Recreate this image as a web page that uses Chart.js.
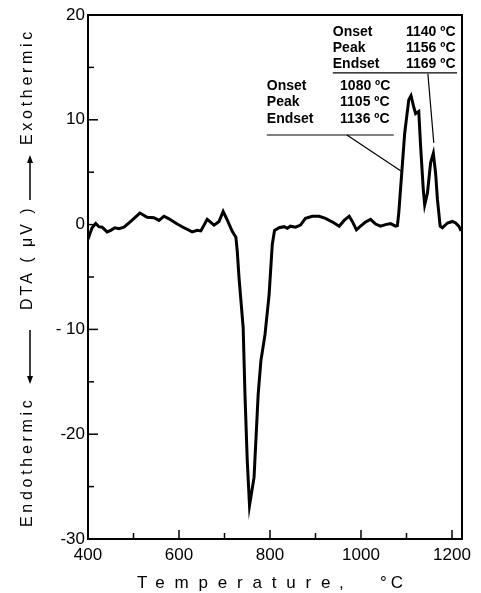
<!DOCTYPE html>
<html>
<head>
<meta charset="utf-8">
<script src="https://cdn.jsdelivr.net/npm/chart.js@4/dist/chart.umd.min.js"></script>
<style>
  body { margin: 0; background: #fff; }
  #wrap { width: 481px; height: 593px; position: relative; }
</style>
</head>
<body>
<div id="wrap"><canvas id="graph"></canvas></div>
<script>
// DTA trace
const temperature = [400, 404, 409, 417, 424, 431, 442, 450, 459, 468, 479, 494, 514, 530, 545, 556, 567, 578, 596, 611,
  629, 640, 648, 662, 677, 688, 697, 706, 717, 725, 728, 732, 741, 745, 750, 755, 765, 774, 780, 789,
  798, 805, 810, 820, 831, 838, 845, 856, 867, 878, 893, 908, 922, 941, 952, 963, 974, 981, 990, 999,
  1010, 1021, 1032, 1043, 1054, 1065, 1076, 1080, 1083, 1089, 1096, 1105, 1110, 1116, 1120, 1127, 1131, 1137, 1140, 1146,
  1153, 1159, 1164, 1168, 1174, 1179, 1190, 1201, 1208, 1215, 1220];
const dta = [-1.4, -0.9, -0.3, 0.1, -0.2, -0.25, -0.7, -0.55, -0.3, -0.4, -0.25, 0.3, 1.1, 0.7, 0.65, 0.4, 0.8, 0.55, 0.05, -0.3,
  -0.7, -0.55, -0.6, 0.5, -0.05, 0.3, 1.25, 0.45, -0.65, -1.2, -2.5, -5.1, -9.8, -16.2, -22.5, -26.8, -24.1, -16.2, -13.0, -10.5,
  -6.7, -1.9, -0.55, -0.3, -0.2, -0.35, -0.15, -0.25, -0.05, 0.6, 0.8, 0.8, 0.6, 0.15, -0.15, 0.4, 0.8, 0.3, -0.5, -0.15,
  0.25, 0.5, 0.05, -0.15, 0, 0.1, -0.15, -0.1, 1.1, 4.6, 8.7, 11.9, 12.3, 11.2, 10.6, 10.8, 7.5, 3.3, 1.9, 3.0,
  5.9, 6.8, 4.9, 2.4, -0.15, -0.3, 0.15, 0.3, 0.15, -0.15, -0.6];

const xTicks = [400, 500, 600, 700, 800, 900, 1000, 1100, 1200];
const yTicks = [-30, -25, -20, -15, -10, -5, 0, 5, 10, 15, 20];

const eventNames = ['Onset', 'Peak', 'Endset'];
const firstPeak = ['1080 ºC', '1105 ºC', '1136 ºC'];
const secondPeak = ['1140 ºC', '1156 ºC', '1169 ºC'];

const points = temperature.map((t, i) => ({ x: t, y: dta[i] }));

function line(ctx, x1, y1, x2, y2) {
    ctx.beginPath();
    ctx.moveTo(x1, y1);
    ctx.lineTo(x2, y2);
    ctx.stroke();
}

function arrow(ctx, x, from, to) {
    // vertical arrow, head at "to"
    line(ctx, x, from, x, to);
    const dir = to > from ? 1 : -1;
    ctx.beginPath();
    ctx.moveTo(x, to + dir * 2);
    ctx.lineTo(x - 3, to - dir * 6);
    ctx.lineTo(x + 3, to - dir * 6);
    ctx.closePath();
    ctx.fill();
}

// annotation blocks, in data units
function drawBlock(ctx, x, y, block) {
    ctx.font = 'bold 14px "Liberation Sans", Arial, sans-serif';
    ctx.textBaseline = 'alphabetic';
    ctx.textAlign = 'left';
    eventNames.forEach((name, i) => {
        ctx.fillText(name, x.getPixelForValue(block.labelX), y.getPixelForValue(block.rows[i]));
        ctx.fillText(block.values[i], x.getPixelForValue(block.valueX), y.getPixelForValue(block.rows[i]));
    });
    ctx.lineWidth = 1.2;
    line(ctx, x.getPixelForValue(block.labelX), y.getPixelForValue(block.underY),
        x.getPixelForValue(block.underEnd), y.getPixelForValue(block.underY));
    line(ctx, x.getPixelForValue(block.lead[0]), y.getPixelForValue(block.lead[1]),
        x.getPixelForValue(block.lead[2]), y.getPixelForValue(block.lead[3]));
}

const overlay = {
    id: 'overlay',
    afterDraw(chart) {
        const { ctx, chartArea: a, scales: { x, y } } = chart;
        ctx.save();
        ctx.strokeStyle = '#000';
        ctx.fillStyle = '#000';

        // frame
        ctx.lineWidth = 2;
        ctx.strokeRect(a.left, a.top, a.right - a.left, a.bottom - a.top);

        // inward ticks
        ctx.lineWidth = 1.5;
        xTicks.forEach(v => {
            const px = x.getPixelForValue(v);
            line(ctx, px, a.bottom, px, a.bottom - (v % 200 === 0 ? 9 : 6));
        });
        yTicks.forEach(v => {
            const py = y.getPixelForValue(v);
            line(ctx, a.left, py, a.left + (v % 10 === 0 ? 10 : 6), py);
        });

        drawBlock(ctx, x, y, {
            labelX: 793, valueX: 954, rows: [12.85, 11.3, 9.7], values: firstPeak,
            underY: 8.55, underEnd: 1072, lead: [969, 8.55, 1092, 5.0]
        });
        drawBlock(ctx, x, y, {
            labelX: 938, valueX: 1099, rows: [18.0, 16.5, 14.95], values: secondPeak,
            underY: 14.47, underEnd: 1211, lead: [1147, 14.4, 1160, 7.8]
        });

        // x title
        ctx.font = '17px "Liberation Sans", Arial, sans-serif';
        ctx.textAlign = 'left';
        ctx.textBaseline = 'alphabetic';
        ctx.letterSpacing = '9.8px';
        ctx.fillText('Temperature', 137, 588);
        ctx.letterSpacing = '0px';
        ctx.fillText(',', 339, 588);
        ctx.letterSpacing = '4px';
        ctx.fillText('°C', 380, 588);

        // y title, rotated
        ctx.save();
        ctx.translate(28, 0);
        ctx.rotate(-Math.PI / 2);
        ctx.font = '16px "Liberation Sans", Arial, sans-serif';
        ctx.textBaseline = 'middle';
        ctx.letterSpacing = '3.7px';
        ctx.fillText('Endothermic', -527, 0);
        ctx.fillText('Exothermic', -145, 0);
        ctx.letterSpacing = '3px';
        ctx.fillText('DTA ( μV )', -310, 0);
        ctx.restore();
        ctx.letterSpacing = '0px';

        ctx.lineWidth = 1.5;
        arrow(ctx, 30, 330, 382);
        arrow(ctx, 30, 200, 157);

        ctx.restore();
    }
};

const config = {
    type: 'line',
    data: {
        datasets: [{
            data: points,
            borderColor: '#000',
            borderWidth: 3,
            pointRadius: 0,
            tension: 0,
            fill: false
        }]
    },
    options: {
        responsive: true,
        maintainAspectRatio: false,
        animation: false,
        layout: { padding: { top: 15, right: 19, left: 0, bottom: 0 } },
        plugins: { legend: { display: false }, tooltip: { enabled: false } },
        scales: {
            x: {
                type: 'linear',
                min: 400,
                max: 1222,
                afterBuildTicks: s => { s.ticks = xTicks.map(v => ({ value: v })); },
                afterFit: s => { s.height = 54; },
                grid: { display: false, drawTicks: false },
                border: { display: false },
                ticks: {
                    autoSkip: false,
                    maxRotation: 0,
                    padding: 6,
                    color: '#000',
                    font: { family: '"Liberation Sans", Arial, sans-serif', size: 17 },
                    callback: v => (v % 200 === 0 ? String(v) : '')
                }
            },
            y: {
                min: -30,
                max: 20,
                afterBuildTicks: s => { s.ticks = yTicks.map(v => ({ value: v })); },
                afterFit: s => { s.width = 88; },
                grid: { display: false, drawTicks: false },
                border: { display: false },
                ticks: {
                    autoSkip: false,
                    padding: 3,
                    color: '#000',
                    font: { family: '"Liberation Sans", Arial, sans-serif', size: 17 },
                    callback: v => (v % 10 === 0 ? (v === -10 ? '- 10' : String(v)) : '')
                }
            }
        }
    },
    plugins: [overlay]
};

new Chart(document.getElementById('graph').getContext('2d'), config);
</script>
</body>
</html>
